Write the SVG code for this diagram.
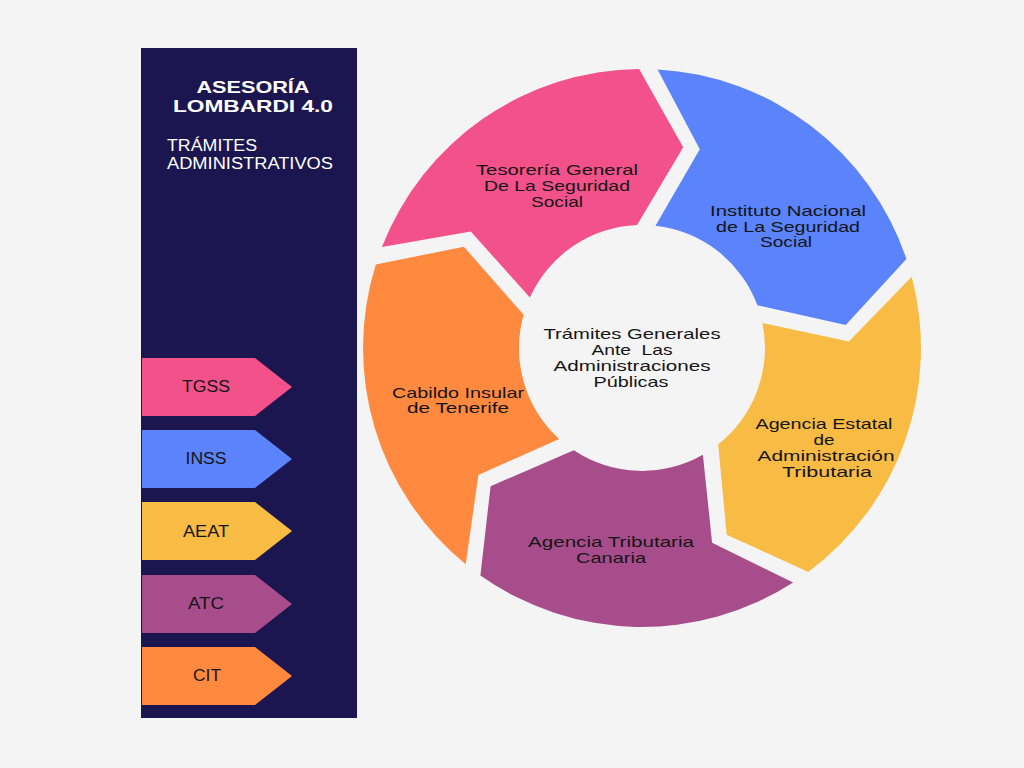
<svg xmlns="http://www.w3.org/2000/svg" width="1024" height="768" viewBox="0 0 1024 768">
<style>
.t{font-family:"Liberation Sans",Arial,sans-serif;font-size:15px;fill:#151515;text-anchor:middle}
.tag{font-family:"Liberation Sans",Arial,sans-serif;font-size:16px;fill:#151515;text-anchor:middle}
.w{font-family:"Liberation Sans",Arial,sans-serif;fill:#ffffff}
</style>
<rect width="1024" height="768" fill="#f4f4f4"/>
<g id="panel">
<rect x="141" y="48" width="216" height="670" fill="#1c1650"/>
<text class="w" x="253" y="93" font-size="17" font-weight="bold" text-anchor="middle" textLength="113" lengthAdjust="spacingAndGlyphs">ASESORÍA</text>
<text class="w" x="253" y="112" font-size="17" font-weight="bold" text-anchor="middle" textLength="160" lengthAdjust="spacingAndGlyphs">LOMBARDI 4.0</text>
<text class="w" x="167" y="151" font-size="16" textLength="90" lengthAdjust="spacingAndGlyphs">TRÁMITES</text>
<text class="w" x="167" y="169" font-size="16" textLength="166" lengthAdjust="spacingAndGlyphs">ADMINISTRATIVOS</text>
</g>
<g id="tag-tgss">
<path d="M142 358H255L292 387L255 416H142Z" fill="#f2518a"/>
<text class="tag" x="206" y="392" textLength="48" lengthAdjust="spacingAndGlyphs">TGSS</text>
</g>
<g id="tag-inss">
<path d="M142 430H255L292 459L255 488H142Z" fill="#5a83fc"/>
<text class="tag" x="206" y="464" textLength="41" lengthAdjust="spacingAndGlyphs">INSS</text>
</g>
<g id="tag-aeat">
<path d="M142 502H255L292 531L255 560H142Z" fill="#f8bb43"/>
<text class="tag" x="206" y="537" textLength="46" lengthAdjust="spacingAndGlyphs">AEAT</text>
</g>
<g id="tag-atc">
<path d="M142 575H255L292 604L255 633H142Z" fill="#a84d8b"/>
<text class="tag" x="206" y="609" textLength="36" lengthAdjust="spacingAndGlyphs">ATC</text>
</g>
<g id="tag-cit">
<path d="M142 647H255L292 676L255 705H142Z" fill="#fe893f"/>
<text class="tag" x="207" y="681" textLength="28" lengthAdjust="spacingAndGlyphs">CIT</text>
</g>
<g id="connectors"></g>
<g id="seg-tgss">
<path d="M381.9 247.1A279 279 0 0 1 639.1 69L683.2 147.2L637.1 225.1A123 123 0 0 0 529.9 297.4L470.8 231.6Z" fill="#f2518a"/>
<text class="t" x="557" y="175" textLength="162" lengthAdjust="spacingAndGlyphs">Tesorería General</text>
<text class="t" x="557" y="191" textLength="146" lengthAdjust="spacingAndGlyphs">De La Seguridad</text>
<text class="t" x="557" y="207" textLength="52" lengthAdjust="spacingAndGlyphs">Social</text>
</g>
<g id="seg-inss">
<path d="M657.6 69.4A279 279 0 0 1 906.4 259L845.7 325.1L757.4 305.3A123 123 0 0 0 655.5 225.7L699.8 149.2Z" fill="#5a83fc"/>
<text class="t" x="788" y="216" textLength="156" lengthAdjust="spacingAndGlyphs">Instituto Nacional</text>
<text class="t" x="788" y="232" textLength="144" lengthAdjust="spacingAndGlyphs">de La Seguridad</text>
<text class="t" x="786" y="247" textLength="52" lengthAdjust="spacingAndGlyphs">Social</text>
</g>
<g id="seg-aeat">
<path d="M911.7 276.7A279 279 0 0 1 808.3 572L726.7 534.7L718.2 444.5A123 123 0 0 0 762.4 323.1L848.9 341.5Z" fill="#f8bb43"/>
<text class="t" x="824" y="429" textLength="137" lengthAdjust="spacingAndGlyphs">Agencia Estatal</text>
<text class="t" x="824" y="445" textLength="21" lengthAdjust="spacingAndGlyphs">de</text>
<text class="t" x="826" y="461" textLength="137" lengthAdjust="spacingAndGlyphs">Administración</text>
<text class="t" x="827" y="477" textLength="90" lengthAdjust="spacingAndGlyphs">Tributaria</text>
</g>
<g id="seg-atc">
<path d="M793.1 582.5A279 279 0 0 1 480.4 575.4L490.6 486.2L573.8 450.3A123 123 0 0 0 702.9 454.8L712.1 542.8Z" fill="#a84d8b"/>
<text class="t" x="611" y="547" textLength="166" lengthAdjust="spacingAndGlyphs">Agencia Tributaria</text>
<text class="t" x="611" y="563" textLength="70" lengthAdjust="spacingAndGlyphs">Canaria</text>
</g>
<g id="seg-cit">
<path d="M465.7 564.2A279 279 0 0 1 375.8 264.6L463.8 246.7L523.6 314.7A123 123 0 0 0 559.2 439L478.4 474.9Z" fill="#fe893f"/>
<text class="t" x="458" y="398" textLength="132" lengthAdjust="spacingAndGlyphs">Cabildo Insular</text>
<text class="t" x="458" y="413" textLength="102" lengthAdjust="spacingAndGlyphs">de Tenerife</text>
</g>
<g id="center">
<text class="t" x="632" y="339" textLength="177" lengthAdjust="spacingAndGlyphs">Trámites Generales</text>
<text class="t" x="632" y="355" textLength="81" lengthAdjust="spacingAndGlyphs" style="white-space:pre">Ante  Las</text>
<text class="t" x="632" y="371" textLength="157" lengthAdjust="spacingAndGlyphs">Administraciones</text>
<text class="t" x="631" y="387" textLength="75" lengthAdjust="spacingAndGlyphs">Públicas</text>
</g>
</svg>
